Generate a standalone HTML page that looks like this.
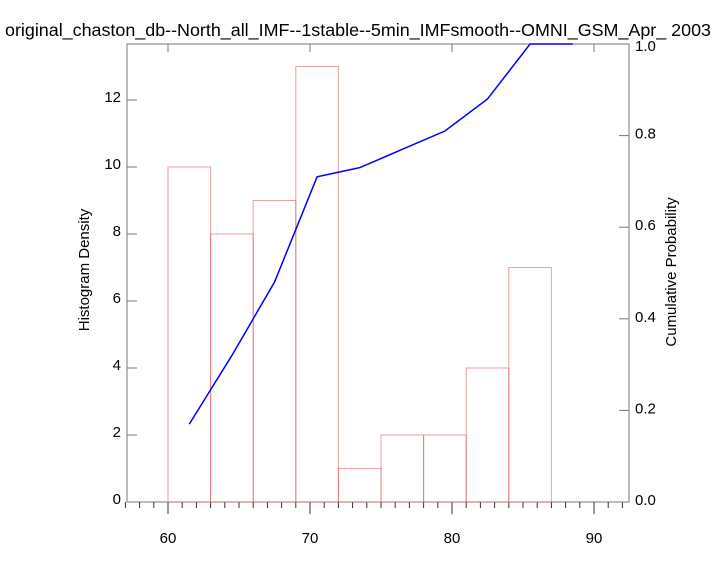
<!DOCTYPE html>
<html><head><meta charset="utf-8"><style>
body{margin:0;background:#fff;overflow:hidden;width:717px;height:573px}
svg{display:block;font-family:"Liberation Sans",Arial,sans-serif}
</style></head><body>
<svg id="chart" width="717" height="573" viewBox="0 0 717 573">
<text x="5" y="36" font-size="17.9" fill="#000">original_chaston_db--North_all_IMF--1stable--5min_IMFsmooth--OMNI_GSM_Apr_ 2003</text>
<g id="axes"></g>
<g id="bars"></g>
<g id="line"></g>
<text transform="translate(89,270) rotate(-90)" text-anchor="middle" font-size="15">Histogram Density</text>
<text transform="translate(676,272) rotate(-90)" text-anchor="middle" font-size="15">Cumulative Probability</text>
</svg>
<script>
const binEdges=[60,63,66,69,72,75,78,81,84,87];
const densities=[10,8,9,13,1,2,2,4,7];
const cumX=[61.5,64.5,67.5,70.5,73.5,76.5,79.5,82.5,85.5,88.5];
const cumY=[0.17,0.32,0.48,0.71,0.73,0.77,0.81,0.88,1.0,1.0];
const xTicks=[60,70,80,90];
const yTicks=[0,2,4,6,8,10,12];
const y2Ticks=[0.0,0.2,0.4,0.6,0.8,1.0];
const L=127,R=629,T=44,B=502;
const X=v=>168+(v-60)*(594-168)/30;
const Y=v=>B-v*33.5;
const Y2=v=>B-v*(B-T);
const NS='http://www.w3.org/2000/svg';
function mk(t,a,p){const e=document.createElementNS(NS,t);for(const k in a)e.setAttribute(k,a[k]);p.appendChild(e);return e;}
const ax=document.getElementById('axes');
const frame=mk('rect',{x:L,y:T,width:R-L,height:B-T,fill:'none',stroke:'#777','stroke-width':1},ax);


for(let v=57;v<=92;v++){
  const maj=v%10===0;
  const t=mk('line',{x1:X(v),x2:X(v),y1:B,y2:B+(maj?12:6),stroke:'#333'},ax);
  
  
}
xTicks.forEach(v=>{
  const t=mk('line',{x1:X(v),x2:X(v),y1:T,y2:T+8,stroke:'#777'},ax);
  
  
  const l=mk('text',{x:X(v),y:B+41,'text-anchor':'middle','font-size':15},ax);l.textContent=v;
  
  
});
yTicks.forEach(v=>{
  const t=mk('line',{x1:L,x2:L+10,y1:Y(v),y2:Y(v),stroke:'#777'},ax);
  
  
  const l=mk('text',{x:L-6,y:Y(v)+2,'text-anchor':'end','font-size':15},ax);l.textContent=v;
  
  
});
y2Ticks.forEach(v=>{
  const t=mk('line',{x1:R-10,x2:R,y1:Y2(v),y2:Y2(v),stroke:'#777'},ax);
  
  
  const l=mk('text',{x:R+6,y:Y2(v)+3+(v===1?4:0),'font-size':15},ax);l.textContent=v.toFixed(1);
  
  
});
const bg=document.getElementById('bars');
densities.forEach((d,i)=>{
  const x0=X(binEdges[i]),x1=X(binEdges[i+1]);
  const r=mk('rect',{x:x0,y:Y(d),width:x1-x0,height:B-Y(d),fill:'none',stroke:'#e06060','stroke-opacity':0.6,'stroke-width':1},bg);
  
  
});
const lg=document.getElementById('line');
const pl=mk('polyline',{points:cumX.map((x,i)=>X(x)+','+Y2(cumY[i])).join(' '),fill:'none',stroke:'#0000ff','stroke-width':1.5},lg);


</script>
</body></html>
